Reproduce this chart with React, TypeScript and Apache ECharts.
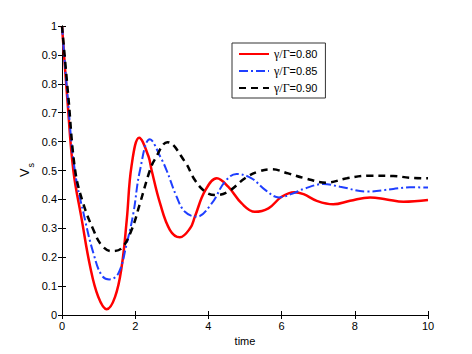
import React, { useEffect, useRef } from "react";
import * as echarts from "echarts";

const seriesNames = ["γ/Γ=0.80", "γ/Γ=0.85", "γ/Γ=0.90"];

const redT = [0, 0.15, 0.31, 0.54, 0.77, 0.99, 1.22, 1.45, 1.63, 1.77, 1.9, 2.11, 2.36, 2.45, 2.68, 2.95, 3.22, 3.5, 3.63, 3.91, 4.23, 4.54, 4.91, 5.27, 5.64, 6.0, 6.35, 6.6, 6.96, 7.41, 7.87, 8.42, 8.87, 9.33, 10];
const redV = [1, 0.74, 0.5, 0.33, 0.167, 0.063, 0.02, 0.063, 0.167, 0.33, 0.516, 0.613, 0.55, 0.5, 0.386, 0.294, 0.269, 0.3, 0.34, 0.43, 0.473, 0.444, 0.386, 0.357, 0.369, 0.409, 0.425, 0.418, 0.395, 0.383, 0.395, 0.407, 0.4, 0.392, 0.398];

const blueT = [0, 0.15, 0.35, 0.63, 0.86, 1.08, 1.29, 1.54, 1.77, 1.95, 2.13, 2.4, 2.72, 2.86, 3.13, 3.36, 3.68, 4.09, 4.45, 4.77, 5.18, 5.55, 5.93, 6.28, 6.64, 7.14, 7.6, 8.33, 9.05, 9.5, 10];
const blueV = [1, 0.76, 0.5, 0.329, 0.213, 0.138, 0.123, 0.144, 0.248, 0.352, 0.5, 0.608, 0.539, 0.5, 0.41, 0.357, 0.34, 0.386, 0.461, 0.488, 0.473, 0.433, 0.407, 0.419, 0.438, 0.453, 0.444, 0.427, 0.436, 0.442, 0.441];

const blackT = [0, 0.17, 0.36, 0.58, 0.86, 1.08, 1.36, 1.63, 1.9, 2.13, 2.4, 2.54, 2.88, 3.36, 3.63, 3.91, 4.18, 4.54, 5.0, 5.36, 5.73, 6.18, 6.64, 7.23, 7.78, 8.42, 9.05, 9.5, 10];
const blackV = [1, 0.76, 0.5, 0.386, 0.294, 0.242, 0.221, 0.231, 0.294, 0.386, 0.5, 0.539, 0.598, 0.53, 0.467, 0.427, 0.415, 0.427, 0.473, 0.496, 0.504, 0.49, 0.473, 0.458, 0.473, 0.482, 0.481, 0.475, 0.473];

const xTicks = [0, 2, 4, 6, 8, 10];
const yTicks = [0, 0.1, 0.2, 0.3, 0.4, 0.5, 0.6, 0.7, 0.8, 0.9, 1];

const zip = (t: number[], v: number[]) => t.map((x, i) => [x, v[i]]);

export default function App() {
  const ref = useRef<HTMLDivElement>(null);
  useEffect(() => {
    if (!ref.current) return;
    const chart = echarts.init(ref.current, null, { renderer: "svg" });
    const font = "Liberation Sans, Arial, Helvetica, sans-serif";
    const axisCommon = {
      type: "value" as const,
      axisLine: { show: true, lineStyle: { color: "#000", width: 1 } },
      axisTick: { show: true, inside: true, length: 4, lineStyle: { color: "#000" } },
      splitLine: { show: false },
    };
    chart.setOption({
      animation: false,
      backgroundColor: "#fff",
      grid: { left: 62, right: 44, top: 26, bottom: 39 },
      xAxis: [
        {
          ...axisCommon,
          min: xTicks[0],
          max: xTicks[xTicks.length - 1],
          interval: 2,
          axisLabel: { color: "#000", fontSize: 11, fontFamily: font, margin: 5 },
          name: "time",
          nameLocation: "middle",
          nameGap: 17,
          nameTextStyle: { color: "#000", fontSize: 11, fontFamily: font },
        },
        {
          ...axisCommon,
          position: "top",
          min: xTicks[0],
          max: xTicks[xTicks.length - 1],
          interval: 2,
          axisLabel: { show: false },
        },
      ],
      yAxis: [
        {
          ...axisCommon,
          min: yTicks[0],
          max: yTicks[yTicks.length - 1],
          interval: 0.1,
          axisLabel: {
            color: "#000",
            fontSize: 11,
            fontFamily: font,
            margin: 5,
            formatter: (v: number) => String(Math.round(v * 10) / 10),
          },
        },
        {
          ...axisCommon,
          position: "right",
          min: yTicks[0],
          max: yTicks[yTicks.length - 1],
          interval: 0.1,
          axisLabel: { show: false },
        },
      ],
      legend: {
        left: 232,
        top: 43,
        orient: "vertical",
        backgroundColor: "#fff",
        borderColor: "#333",
        borderWidth: 1,
        borderRadius: 0,
        padding: [5, 8, 4, 6],
        itemGap: 5,
        itemWidth: 30,
        itemHeight: 12,
        itemStyle: { opacity: 0, borderWidth: 0 },
        data: seriesNames,
        formatter: (name: string) => {
          const parts = name.split("=");
          return "{g|" + parts[0] + "}{n|=" + parts[1] + "}";
        },
        textStyle: {
          color: "#000",
          rich: {
            g: { fontFamily: "Liberation Serif, Times New Roman, serif", fontSize: 12, color: "#000" },
            n: { fontFamily: font, fontSize: 11, color: "#000" },
          },
        },
      },
      graphic: [
        {
          type: "group",
          x: 24,
          y: 177,
          rotation: Math.PI / 2,
          children: [
            {
              type: "text",
              x: 0,
              y: 0,
              style: { text: "V", fontSize: 13, fontFamily: font, fill: "#000", align: "left", verticalAlign: "middle" },
            },
            {
              type: "text",
              x: 9.5,
              y: 7,
              style: { text: "s", fontSize: 9, fontFamily: font, fill: "#000", align: "left", verticalAlign: "middle" },
            },
          ],
        },
      ],
      series: [
        {
          name: seriesNames[0],
          type: "line",
          data: zip(redT, redV),
          smooth: 0.4,
          symbol: "none",
          lineStyle: { color: "#ff0000", width: 2.5, type: "solid" },
          itemStyle: { color: "#ff0000" },
          z: 3,
        },
        {
          name: seriesNames[1],
          type: "line",
          data: zip(blueT, blueV),
          smooth: 0.4,
          symbol: "none",
          lineStyle: { color: "#1f3fff", width: 2, type: [9, 3, 2, 3] },
          itemStyle: { color: "#1f3fff" },
          z: 4,
        },
        {
          name: seriesNames[2],
          type: "line",
          data: zip(blackT, blackV),
          smooth: 0.4,
          symbol: "none",
          lineStyle: { color: "#000", width: 2.5, type: [7, 5] },
          itemStyle: { color: "#000" },
          z: 5,
        },
      ],
    });
    return () => chart.dispose();
  }, []);
  return (
    <div
      ref={ref}
      style={{ position: "fixed", left: 0, top: 0, width: 472, height: 354, background: "#fff" }}
    />
  );
}
